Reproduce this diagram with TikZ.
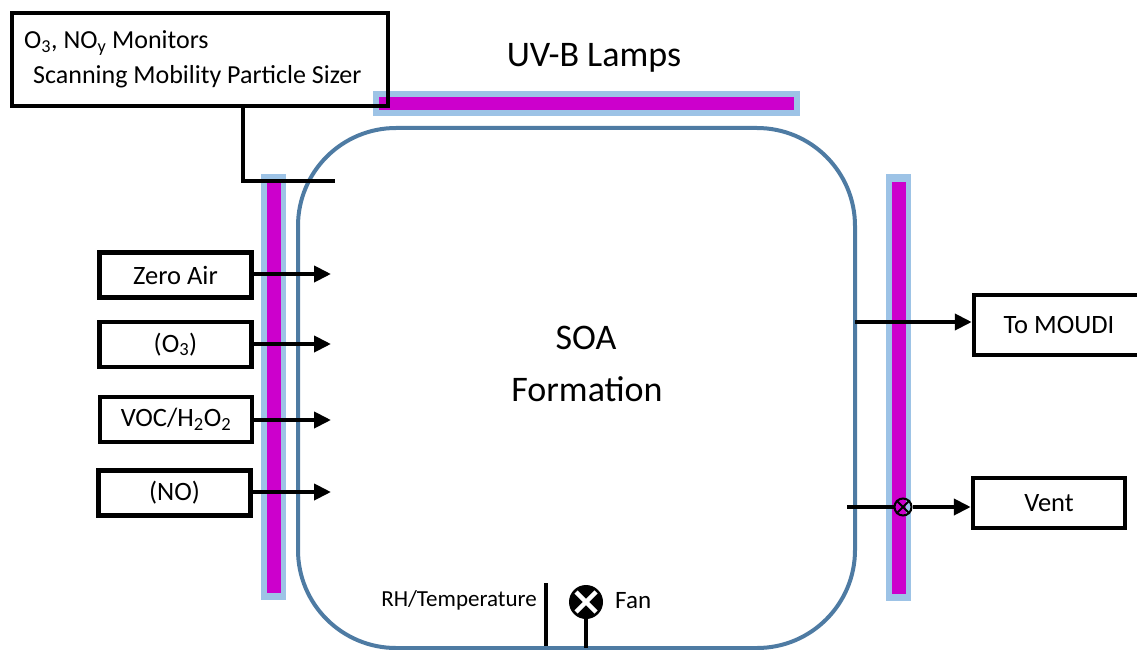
\documentclass[tikz,border=0pt]{standalone}
\usepackage{fontspec}
\setmainfont{Carlito}
\usetikzlibrary{arrows.meta}
\definecolor{chamber}{HTML}{4E7BA3}
\definecolor{lampedge}{HTML}{9DC3E6}
\definecolor{lampcore}{HTML}{CC00CC}
\begin{document}
\begin{tikzpicture}[x=1pt,y=-1pt,
  inbox/.style={draw=black,line width=4.5pt,minimum height=45pt,minimum width=152pt,inner sep=0pt,font=\fontsize{26.5}{28}\selectfont},
  flow/.style={line width=4pt,-{Triangle[length=17pt,width=16pt]}},
  lbl/.style={font=\fontsize{25}{28}\selectfont,inner sep=0pt}]
\useasboundingbox (0,0) rectangle (1137,650);
% lamps
\fill[lampedge] (373,91) rectangle (800,116);
\fill[lampcore] (379,97) rectangle (794,110);
\fill[lampedge] (261,174) rectangle (286,600);
\fill[lampcore] (267,182) rectangle (281,593);
\fill[lampedge] (886,174) rectangle (911,601);
\fill[lampcore] (892,182) rectangle (906,594);
% chamber
\draw[chamber,line width=4pt,rounded corners=98pt] (298,128) rectangle (855,648);
% monitors
\node[draw=black,line width=4.5pt,minimum width=376pt,minimum height=93pt,inner sep=0pt] (mon) at (200,59.5) {};
\node[lbl,anchor=west,font=\fontsize{26}{28}\selectfont] (mt1) at (24,43) {O\textsubscript{3}, NO\textsubscript{y} Monitors};
\node[lbl,anchor=west,font=\fontsize{26}{28}\selectfont] (mt2) at (33,77) {Scanning Mobility Particle Sizer};
\coordinate (mc) at (243,181);
\coordinate (me) at (335,181);
\draw[line width=3.5pt] (mon.south -| mc) -- (mc) -- (me);
\node[lbl,font=\fontsize{36}{40}\selectfont] (uv) at (594,58) {UV-B Lamps};
% inputs
\node[inbox] (za) at (175.5,275) {Zero Air};
\node[inbox] (o3) at (175.5,344.5) {(O\textsubscript{3})};
\node[inbox] (voc) at (176,419.5) {VOC/H\textsubscript{2}O\textsubscript{2}};
\node[inbox] (no) at (174.5,493) {(NO)};
\coordinate (zae) at (331,274);
\coordinate (o3e) at (331,344);
\coordinate (voce) at (331,420);
\coordinate (noe) at (331,492);
\draw[flow] (za.east |- zae) -- (zae);
\draw[flow] (o3.east |- o3e) -- (o3e);
\draw[flow] (voc.east |- voce) -- (voce);
\draw[flow] (no.east |- noe) -- (noe);
% centre text
\node[lbl,font=\fontsize{36}{40}\selectfont] (soa) at (586,338) {SOA};
\node[lbl,font=\fontsize{36}{40}\selectfont] (form) at (587,389) {Formation};
% outputs
\node[draw=black,line width=4.5pt,minimum width=170pt,minimum height=60pt,inner sep=0pt,font=\fontsize{26.5}{28}\selectfont] (moudi) at (1059,325) {To MOUDI};
\coordinate (ms) at (855,322);
\draw[flow] (ms) -- (moudi.west |- ms);
\node[draw=black,line width=4.5pt,minimum width=152pt,minimum height=50pt,inner sep=0pt,font=\fontsize{26.5}{28}\selectfont] (vent) at (1049,503) {Vent};
\node[draw=black,circle,line width=2pt,minimum size=17pt,inner sep=0pt] (valve) at (903,507) {};
\draw[line width=1.8pt] (valve.north east) -- (valve.south west) (valve.north west) -- (valve.south east);
\coordinate (vs) at (847,507);
\draw[line width=4pt] (vs) -- (valve.west);
\draw[flow] (valve.east) -- (vent.west |- valve);
% bottom
\node[lbl,anchor=east,font=\fontsize{23}{26}\selectfont] (rh) at (537,600) {RH/Temperature};
\coordinate (rt) at (546,583);
\coordinate (rb) at (546,646);
\draw[line width=3.5pt] (rt) -- (rb);
\node[fill=black,circle,minimum size=34pt,inner sep=0pt] (fan) at (586,602) {};
\draw[white,line width=4.5pt] ([shift={(-10,-10)}]fan.center) -- ([shift={(10,10)}]fan.center) ([shift={(-10,10)}]fan.center) -- ([shift={(10,-10)}]fan.center);
\coordinate (fb) at (586,648);
\draw[line width=3.5pt] (fan.south) -- (fb);
\node[lbl,anchor=west] (fantxt) at (615,601) {Fan};
\end{tikzpicture}
\end{document}
